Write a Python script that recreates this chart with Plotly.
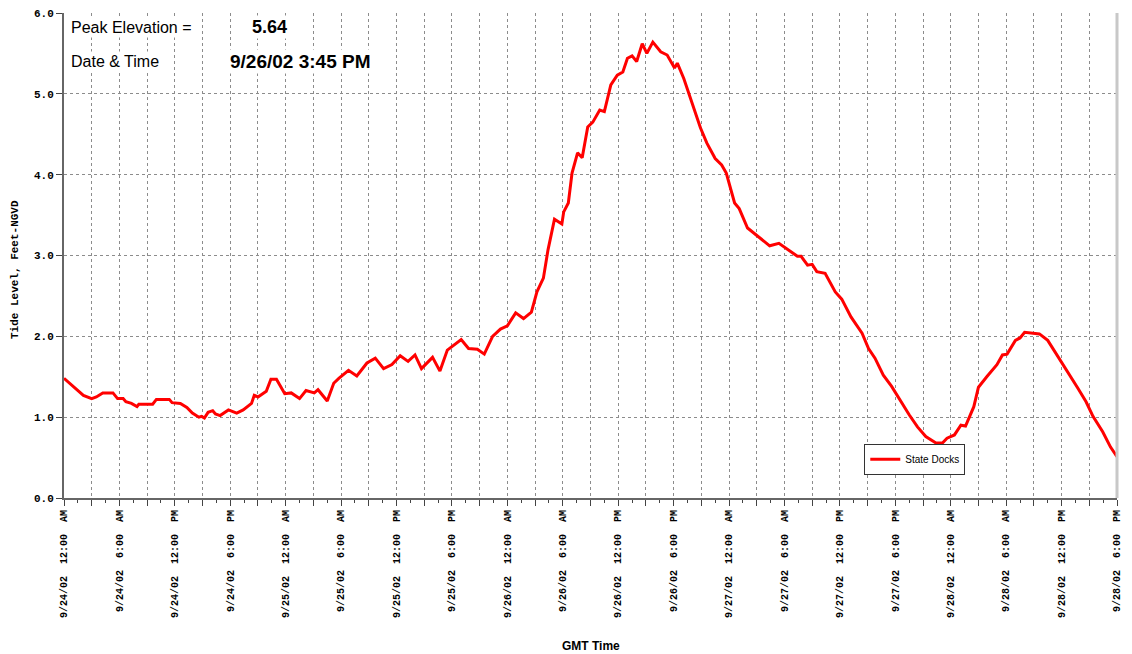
import pandas as pd
import plotly.graph_objects as go

# State Docks tide gauge, hours after 9/24/02 00:00 GMT
hours = [0.0, 1.0, 2.1, 3.0, 3.5, 4.2, 5.3, 5.8, 6.4, 6.7, 7.3, 7.9, 8.1, 9.6, 10.0,
         11.4, 11.7, 12.6, 13.3, 13.9, 14.6, 14.9, 15.2, 15.6, 16.1, 16.4, 16.9, 17.8,
         18.7, 19.4, 20.3, 20.6, 21.0, 21.9, 22.4, 23.0, 23.9, 24.6, 25.2, 25.5, 26.2,
         27.1, 27.5, 28.5, 29.2, 29.75, 30.8, 31.7, 32.8, 33.7, 34.6, 35.5, 36.4, 37.25,
         38.0, 38.7, 39.9, 40.7, 41.5, 43.0, 43.8, 44.75, 45.5, 46.4, 47.25, 48.0, 48.9,
         49.75, 50.6, 51.2, 51.9, 52.4, 53.1, 53.9, 54.1, 54.6, 55.0, 55.6, 56.1, 56.7,
         57.25, 58.0, 58.5, 59.2, 59.9, 60.5, 61.0, 61.5, 62.0, 62.6, 63.1, 63.75, 64.6,
         65.3, 66.1, 66.4, 67.1, 67.8, 68.9, 69.6, 70.5, 71.2, 71.7, 72.6, 73.1, 74.0,
         74.75, 75.3, 76.4, 77.4, 78.5, 79.4, 79.8, 80.5, 81.0, 81.5, 82.4, 83.5, 84.2,
         85.2, 86.4, 87.1, 87.8, 88.7, 89.6, 90.5, 91.5, 92.4, 93.3, 94.4, 95.1, 95.6,
         96.4, 97.1, 97.6, 98.5, 99.0, 99.9, 101.0, 101.6, 102.1, 103.0, 103.5, 104.0,
         104.75, 105.6, 106.5, 107.4, 108.5, 109.75, 110.65, 111.4, 112.45, 113.3, 114.0]
tide = [1.48, 1.38, 1.27, 1.23, 1.25, 1.30, 1.30, 1.23, 1.23, 1.19, 1.17, 1.13, 1.16, 1.16, 1.22,
        1.22, 1.18, 1.17, 1.12, 1.05, 1.00, 1.01, 0.99, 1.06, 1.08, 1.04, 1.02, 1.09,
        1.05, 1.09, 1.17, 1.27, 1.25, 1.32, 1.47, 1.47, 1.29, 1.30, 1.25, 1.23, 1.33,
        1.30, 1.34, 1.20, 1.42, 1.48, 1.58, 1.51, 1.67, 1.73, 1.60, 1.65, 1.76, 1.69,
        1.77, 1.60, 1.74, 1.57, 1.83, 1.96, 1.85, 1.84, 1.78, 2.00, 2.09, 2.13, 2.29,
        2.22, 2.30, 2.55, 2.72, 3.07, 3.45, 3.39, 3.54, 3.65, 4.02, 4.27, 4.21, 4.59,
        4.65, 4.80, 4.78, 5.11, 5.23, 5.27, 5.44, 5.47, 5.40, 5.62, 5.50, 5.64, 5.52,
        5.48, 5.32, 5.38, 5.19, 4.96, 4.58, 4.39, 4.20, 4.12, 4.02, 3.65, 3.58, 3.34,
        3.27, 3.23, 3.12, 3.15, 3.06, 2.99, 2.99, 2.88, 2.89, 2.80, 2.78, 2.55, 2.46,
        2.24, 2.04, 1.85, 1.73, 1.52, 1.38, 1.21, 1.03, 0.88, 0.76, 0.68, 0.68, 0.74,
        0.78, 0.90, 0.89, 1.13, 1.37, 1.50, 1.65, 1.77, 1.78, 1.95, 1.98, 2.05,
        2.04, 2.03, 1.95, 1.79, 1.58, 1.36, 1.19, 1.01, 0.82, 0.63, 0.51]

tick_labels = [
    "9/24/02  12:00  AM", "9/24/02  6:00  AM", "9/24/02  12:00  PM", "9/24/02  6:00  PM",
    "9/25/02  12:00  AM", "9/25/02  6:00  AM", "9/25/02  12:00  PM", "9/25/02  6:00  PM",
    "9/26/02  12:00  AM", "9/26/02  6:00  AM", "9/26/02  12:00  PM", "9/26/02  6:00  PM",
    "9/27/02  12:00  AM", "9/27/02  6:00  AM", "9/27/02  12:00  PM", "9/27/02  6:00  PM",
    "9/28/02  12:00  AM", "9/28/02  6:00  AM", "9/28/02  12:00  PM", "9/28/02  6:00  PM",
]

peak_value = "5.64"
peak_time = "9/26/02 3:45 PM"

start = pd.Timestamp("2002-09-24 00:00")
times = start + pd.to_timedelta(hours, unit="h")

# ticks/grid every 3 hours, labels every 6 hours
tick_vals = pd.date_range(start, periods=39, freq="3h")
tick_text = []
for i in range(len(tick_vals)):
    if i % 2 == 0:
        tick_text.append(tick_labels[i // 2].replace(" ", "\u00a0"))
    else:
        tick_text.append("")

mono = dict(family="Liberation Mono, Courier New, monospace", size=11, color="black", weight="bold")
mono_x = dict(family="Liberation Mono, Courier New, monospace", size=10, color="black", weight="bold")

fig = go.Figure()
fig.add_trace(go.Scatter(x=times, y=tide, mode="lines", name="State Docks",
                         line=dict(color="#ff0000", width=3)))

# page body has an 8px margin, so the figure is sized to fit inside it
fig.update_layout(
    width=1116, height=646,
    margin=dict(l=56, r=7, t=5, b=156, autoexpand=False),
    paper_bgcolor="white", plot_bgcolor="white",
    showlegend=True,
    legend=dict(x=0.76, y=0.112, xanchor="left", yanchor="top",
                bgcolor="white", bordercolor="#333333", borderwidth=1,
                font=dict(family="Arial, Liberation Sans", size=10, color="black"),
                itemwidth=30, tracegroupgap=0),
)

fig.update_xaxes(
    range=[start, start + pd.Timedelta(hours=114)],
    tickmode="array", tickvals=tick_vals, ticktext=tick_text,
    tickangle=-90, tickfont=mono_x, automargin=False, ticklabeloverflow="allow",
    ticks="outside", ticklen=6, tickcolor="#444444", tickwidth=1,
    minor=dict(dtick=90 * 60 * 1000, tick0=start, ticks="outside", ticklen=3,
               tickcolor="#444444", showgrid=False),
    showgrid=True, gridcolor="#8c8c8c", gridwidth=1, griddash="3px,3px",
    showline=True, linecolor="#666666", linewidth=2,
    zeroline=False,
)
fig.update_yaxes(
    range=[0, 6], tickmode="array", tickvals=[0, 1, 2, 3, 4, 5, 6],
    ticktext=["0.0", "1.0", "2.0", "3.0", "4.0", "5.0", "6.0"],
    tickfont=mono, ticks="outside", ticklen=6, tickcolor="#444444",
    automargin=False, ticklabeloverflow="allow",
    showgrid=True, gridcolor="#8c8c8c", gridwidth=1, griddash="3px,3px",
    showline=True, linecolor="#666666", linewidth=2,
    zeroline=False,
)

# light grey frame on the right side
fig.add_shape(type="line", xref="paper", yref="paper", x0=1, x1=1, y0=0, y1=1,
              line=dict(color="#c8c8c8", width=3))

# axis titles
fig.add_annotation(text="GMT Time", xref="paper", yref="paper", x=0.5, y=0,
                   xanchor="center", yanchor="top", yshift=-139, showarrow=False,
                   font=dict(family="Arial, Liberation Sans", size=12, color="black", weight="bold"))
fig.add_annotation(text="Tide Level, Feet-NGVD", xref="paper", yref="paper", x=0, y=0.47,
                   xanchor="center", yanchor="middle", xshift=-49, textangle=-90,
                   showarrow=False, font=mono)

# peak elevation box
label_font = dict(family="Arial, Liberation Sans", size=16, color="black")
value_font = dict(family="Arial, Liberation Sans", size=18, color="black", weight="bold")
fig.add_annotation(text="Peak Elevation =", xref="paper", yref="paper", x=0, y=1,
                   xanchor="left", yanchor="middle", xshift=5, yshift=-14,
                   showarrow=False, font=label_font, bgcolor="white")
fig.add_annotation(text=peak_value, xref="paper", yref="paper", x=0, y=1,
                   xanchor="left", yanchor="middle", xshift=186, yshift=-14,
                   showarrow=False, font=value_font, bgcolor="white")
fig.add_annotation(text="Date & Time", xref="paper", yref="paper", x=0, y=1,
                   xanchor="left", yanchor="middle", xshift=5, yshift=-48,
                   showarrow=False, font=label_font, bgcolor="white")
fig.add_annotation(text=peak_time, xref="paper", yref="paper", x=0, y=1,
                   xanchor="left", yanchor="middle", xshift=164, yshift=-48,
                   showarrow=False, font=dict(value_font, size=19), bgcolor="white")

fig.write_html("out.html")
